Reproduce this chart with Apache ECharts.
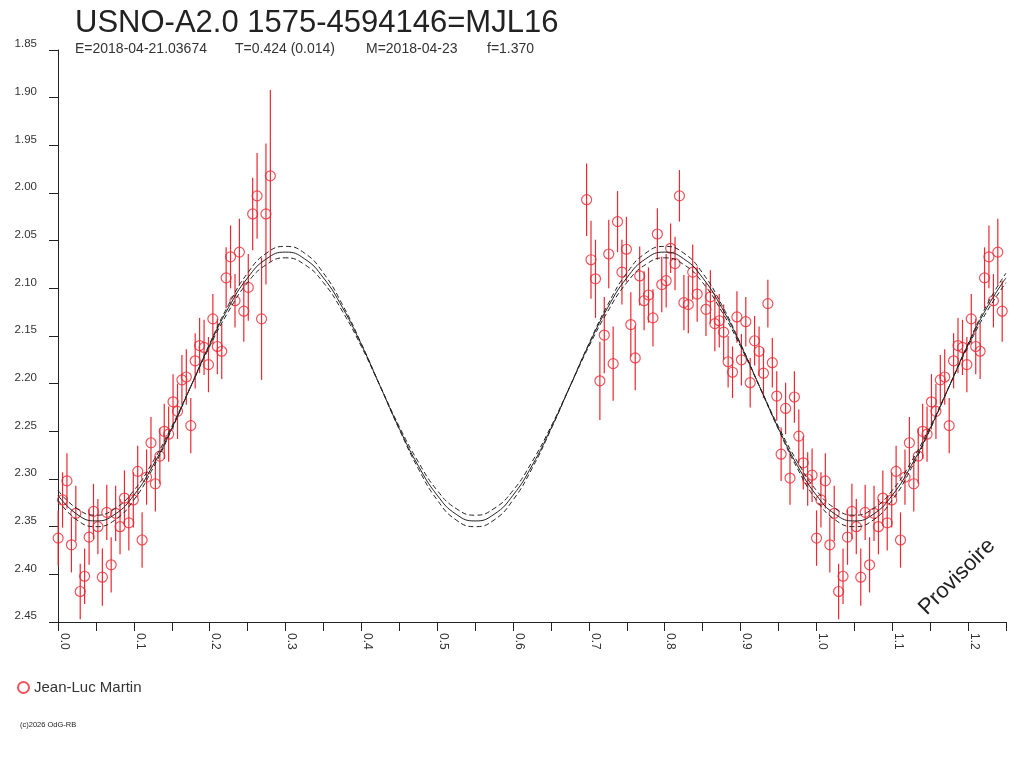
<!DOCTYPE html>
<html>
<head>
<meta charset="utf-8">
<title>USNO-A2.0 1575-4594146=MJL16</title>
<script src="https://cdn.jsdelivr.net/npm/echarts@6/dist/echarts.min.js"></script>
<style>
  html, body { margin: 0; padding: 0; background: #fff; }
  #chart { width: 1024px; height: 768px; }
</style>
</head>
<body>
<div id="chart"></div>
<script>
const obsPhase = [
  0.6970, 0.7028, 0.7087, 0.7145, 0.7203, 0.7262, 0.7320, 0.7378, 0.7436, 0.7495,
  0.7553, 0.7611, 0.7670, 0.7728, 0.7786, 0.7845, 0.7903, 0.7961, 0.8019, 0.8078,
  0.8136, 0.8194, 0.8253, 0.8311, 0.8369, 0.8428, 0.8544, 0.8602, 0.8661,
  0.8719, 0.8777, 0.8836, 0.8894, 0.8952, 0.9011, 0.9069, 0.9127, 0.9185, 0.9244,
  0.9302, 0.9360, 0.9419, 0.9477, 0.9535, 0.9594, 0.9652, 0.9710, 0.9768, 0.9827,
  0.9885, 0.9943, 1.0002, 1.0060, 1.0118, 1.0177, 1.0235, 1.0293, 1.0351, 1.0410,
  1.0468, 1.0526, 1.0585, 1.0643, 1.0701, 1.0760, 1.0818, 1.0876, 1.0934, 1.0993,
  1.1051, 1.1109, 1.1168, 1.1226, 1.1284, 1.1343, 1.1401, 1.1459, 1.1517, 1.1576,
  1.1634, 1.1692, 1.1751, 1.1809, 1.1867, 1.1926, 1.1984, 1.2042, 1.2101, 1.2159,
  1.2217, 1.2275, 1.2334, 1.2392, 1.2450, 1.2509, 1.2567, 1.2625, 1.2684, 1.2742, 1.2800
];
const obsMag = [
  2.007, 2.070, 2.090, 2.197, 2.149, 2.064, 2.179, 2.030, 2.083, 2.059,
  2.138, 2.173, 2.087, 2.113, 2.107, 2.131, 2.043, 2.096, 2.092, 2.058,
  2.074, 2.003, 2.115, 2.117, 2.083, 2.106, 2.122, 2.109, 2.137,
  2.134, 2.146, 2.177, 2.188, 2.130, 2.175, 2.135, 2.199, 2.155, 2.166,
  2.189, 2.116, 2.178, 2.213, 2.274, 2.226, 2.299, 2.214, 2.255, 2.283,
  2.300, 2.296, 2.362, 2.322, 2.302, 2.369, 2.336, 2.418, 2.402, 2.361,
  2.334, 2.350, 2.403, 2.335, 2.390, 2.336, 2.350, 2.320, 2.346, 2.322,
  2.292, 2.364, 2.298, 2.262, 2.305, 2.276, 2.250, 2.253, 2.219, 2.229,
  2.196, 2.193, 2.244, 2.176, 2.160, 2.162, 2.180, 2.132, 2.161, 2.166,
  2.089, 2.067, 2.113, 2.062, 2.124, 2.099, 2.022, 2.003, 2.132, 2.022, 1.982
];
const obsErr = [
  0.038, 0.041, 0.041, 0.041, 0.040, 0.036, 0.039, 0.032, 0.034, 0.034,
  0.034, 0.034, 0.031, 0.031, 0.029, 0.030, 0.027, 0.029, 0.028, 0.026,
  0.028, 0.027, 0.029, 0.030, 0.029, 0.029, 0.028, 0.028, 0.029,
  0.028, 0.029, 0.027, 0.027, 0.027, 0.027, 0.026, 0.026, 0.026, 0.026,
  0.026, 0.025, 0.026, 0.026, 0.028, 0.027, 0.028, 0.027, 0.028, 0.028,
  0.028, 0.028, 0.029, 0.029, 0.029, 0.029, 0.029, 0.029, 0.029, 0.029,
  0.029, 0.029, 0.030, 0.029, 0.029, 0.029, 0.029, 0.029, 0.029, 0.029,
  0.027, 0.029, 0.029, 0.027, 0.029, 0.029, 0.029, 0.029, 0.029, 0.029,
  0.026, 0.029, 0.029, 0.029, 0.029, 0.029, 0.029, 0.026, 0.029, 0.029,
  0.032, 0.033, 0.028, 0.035, 0.032, 0.035, 0.038, 0.045, 0.064, 0.074, 0.090
];

// fitted light curve (middle) and its two limits, read every 0.025 in phase
const fitPhase = [
  0.000, 0.025, 0.050, 0.075, 0.100, 0.125, 0.150, 0.175, 0.200, 0.225,
  0.250, 0.275, 0.300, 0.325, 0.350, 0.375, 0.400, 0.425, 0.450, 0.475,
  0.500, 0.525, 0.550, 0.575, 0.600, 0.625, 0.650, 0.675, 0.700, 0.725,
  0.750, 0.775, 0.800, 0.825, 0.850, 0.875, 0.900, 0.925, 0.950, 0.975,
  1.000, 1.025, 1.050, 1.075, 1.100, 1.125, 1.150, 1.175, 1.200, 1.225, 1.250
];
const fitMid = [
  2.317, 2.337, 2.344, 2.337, 2.317, 2.286, 2.247, 2.203, 2.159, 2.120,
  2.089, 2.069, 2.062, 2.069, 2.089, 2.120, 2.159, 2.203, 2.247, 2.286,
  2.317, 2.337, 2.344, 2.337, 2.317, 2.286, 2.247, 2.203, 2.159, 2.120,
  2.089, 2.069, 2.062, 2.069, 2.089, 2.120, 2.159, 2.203, 2.247, 2.286,
  2.317, 2.337, 2.344, 2.337, 2.317, 2.286, 2.247, 2.203, 2.159, 2.120, 2.089
];
const fitOuter = [
  2.322, 2.343, 2.350, 2.343, 2.322, 2.289, 2.248, 2.203, 2.158, 2.117,
  2.084, 2.063, 2.056, 2.063, 2.084, 2.117, 2.158, 2.203, 2.248, 2.289,
  2.322, 2.343, 2.350, 2.343, 2.322, 2.289, 2.248, 2.203, 2.158, 2.117,
  2.084, 2.063, 2.056, 2.063, 2.084, 2.117, 2.158, 2.203, 2.248, 2.289,
  2.322, 2.343, 2.350, 2.343, 2.322, 2.289, 2.248, 2.203, 2.158, 2.117, 2.084
];
const fitInner = [
  2.312, 2.331, 2.338, 2.331, 2.312, 2.282, 2.245, 2.203, 2.161, 2.124,
  2.094, 2.075, 2.068, 2.075, 2.094, 2.124, 2.161, 2.203, 2.245, 2.282,
  2.312, 2.331, 2.338, 2.331, 2.312, 2.282, 2.245, 2.203, 2.161, 2.124,
  2.094, 2.075, 2.068, 2.075, 2.094, 2.124, 2.161, 2.203, 2.245, 2.282,
  2.312, 2.331, 2.338, 2.331, 2.312, 2.282, 2.245, 2.203, 2.161, 2.124, 2.094
];

const titleText = 'USNO-A2.0 1575-4594146=MJL16';
const infoTexts = ['E=2018-04-21.03674', 'T=0.424 (0.014)', 'M=2018-04-23', 'f=1.370'];
const observer = 'Jean-Luc Martin';
const PHASE_MAX = 1.25;

const RED = '#ec2832';
const INK = '#222';
const FONT = 'Liberation Sans, Arial, sans-serif';

// plot each point at its phase and once more shifted by one cycle
const points = [];
obsPhase.forEach((p, i) => {
  if (p <= PHASE_MAX) points.push([p, obsMag[i], obsErr[i]]);
  if (p >= 1) points.push([p - 1, obsMag[i], obsErr[i]]);
});

const pair = (ys) => fitPhase.map((x, i) => [x, ys[i]]);

const chart = echarts.init(document.getElementById('chart'), null, { renderer: 'canvas' });

const infoX = [75, 235, 366, 487];

chart.setOption({
  animation: false,
  backgroundColor: '#fff',
  title: {
    text: titleText,
    left: 70, top: 3,
    textStyle: { fontFamily: FONT, fontSize: 31, fontWeight: 'normal', color: INK }
  },
  legend: {
    data: [observer],
    left: 12, top: 675,
    itemWidth: 11, itemHeight: 11, itemGap: 7,
    textStyle: { fontFamily: FONT, fontSize: 15, color: '#333' }
  },
  grid: { left: 58, right: 18, top: 50, bottom: 146, containLabel: false },
  xAxis: {
    type: 'value', min: 0, max: PHASE_MAX, interval: 0.05,
    axisLine: { show: true, onZero: false, lineStyle: { color: INK, width: 1 } },
    axisTick: { show: true, length: 9, lineStyle: { color: INK } },
    splitLine: { show: false },
    axisLabel: {
      rotate: -90, margin: 11, verticalAlign: 'bottom',
      fontFamily: FONT, fontSize: 12, color: '#333',
      formatter: v => (Math.round(v * 20) % 2 === 0 ? v.toFixed(1) : '')
    }
  },
  yAxis: {
    type: 'value', inverse: true, min: 1.85, max: 2.45, interval: 0.05,
    axisLine: { show: true, onZero: false, lineStyle: { color: INK, width: 1 } },
    axisTick: { show: true, length: 9, lineStyle: { color: INK } },
    splitLine: { show: false },
    axisLabel: {
      margin: 21, verticalAlign: 'bottom',
      fontFamily: FONT, fontSize: 11.5, color: '#333',
      formatter: v => v.toFixed(2)
    }
  },
  graphic: [
    ...infoTexts.map((t, i) => ({
      type: 'text', left: infoX[i], top: 42,
      style: { text: t, fontFamily: FONT, fontSize: 14, fill: '#333' }
    })),
    {
      type: 'text', x: 957, y: 577, rotation: Math.PI / 4,
      style: { text: 'Provisoire', fontFamily: FONT, fontSize: 22, fill: INK,
               align: 'center', verticalAlign: 'middle' }
    },
    {
      type: 'text', left: 20, top: 721,
      style: { text: '(c)2026 OdG-RB', fontFamily: FONT, fontSize: 7.5, fill: INK }
    }
  ],
  series: [
    {
      type: 'line', data: pair(fitOuter), smooth: true, showSymbol: false, silent: true,
      lineStyle: { color: INK, width: 1, type: [5, 3] }
    },
    {
      type: 'line', data: pair(fitInner), smooth: true, showSymbol: false, silent: true,
      lineStyle: { color: INK, width: 1, type: [5, 3] }
    },
    {
      type: 'line', data: pair(fitMid), smooth: true, showSymbol: false, silent: true,
      lineStyle: { color: INK, width: 1 }
    },
    {
      type: 'custom', silent: true,
      data: points,
      renderItem(params, api) {
        const x = api.value(0), y = api.value(1), e = api.value(2);
        const a = api.coord([x, y - e]);
        const b = api.coord([x, y + e]);
        return {
          type: 'line',
          shape: { x1: a[0], y1: a[1], x2: b[0], y2: b[1] },
          style: { stroke: RED, lineWidth: 1.2 }
        };
      }
    },
    {
      name: observer, type: 'scatter', data: points,
      symbol: 'circle', symbolSize: 10,
      itemStyle: { color: 'rgba(255,255,255,0)', borderColor: RED, borderWidth: 1.2 }
    }
  ]
});
</script>
</body>
</html>
